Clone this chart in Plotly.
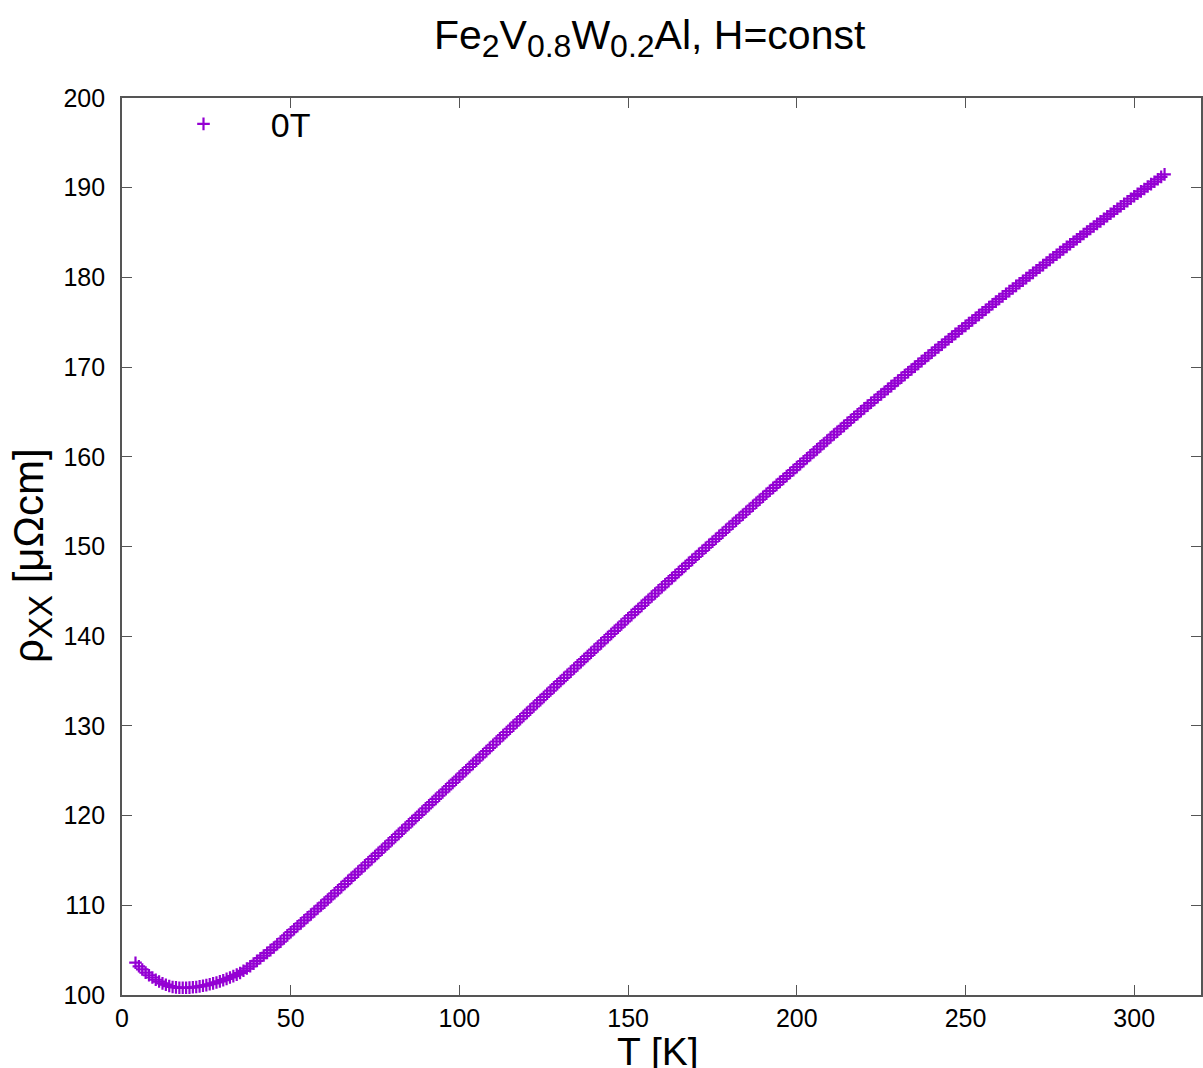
import plotly.graph_objects as go

# Temperature [K]
T_K = [4, 5, 6, 7, 8, 9, 10, 11, 12, 13, 14, 15, 16, 17, 18, 19, 20, 21, 22, 23, 24, 25, 26, 27, 28, 29,
       30, 31, 32, 33, 34, 35, 36, 37, 38, 39, 40, 41, 42, 43, 44, 45, 46, 47, 48, 49,
       50, 51, 52, 53, 54, 55, 56, 57, 58, 59, 60, 61, 62, 63, 64, 65, 66, 67, 68, 69,
       70, 71, 72, 73, 74, 75, 76, 77, 78, 79, 80, 81, 82, 83, 84, 85, 86, 87, 88, 89,
       90, 91, 92, 93, 94, 95, 96, 97, 98, 99, 100, 101, 102, 103, 104, 105, 106, 107, 108, 109,
       110, 111, 112, 113, 114, 115, 116, 117, 118, 119, 120, 121, 122, 123, 124, 125, 126, 127, 128, 129,
       130, 131, 132, 133, 134, 135, 136, 137, 138, 139, 140, 141, 142, 143, 144, 145, 146, 147, 148, 149,
       150, 151, 152, 153, 154, 155, 156, 157, 158, 159, 160, 161, 162, 163, 164, 165, 166, 167, 168, 169,
       170, 171, 172, 173, 174, 175, 176, 177, 178, 179, 180, 181, 182, 183, 184, 185, 186, 187, 188, 189,
       190, 191, 192, 193, 194, 195, 196, 197, 198, 199, 200, 201, 202, 203, 204, 205, 206, 207, 208, 209,
       210, 211, 212, 213, 214, 215, 216, 217, 218, 219, 220, 221, 222, 223, 224, 225, 226, 227, 228, 229,
       230, 231, 232, 233, 234, 235, 236, 237, 238, 239, 240, 241, 242, 243, 244, 245, 246, 247, 248, 249,
       250, 251, 252, 253, 254, 255, 256, 257, 258, 259, 260, 261, 262, 263, 264, 265, 266, 267, 268, 269,
       270, 271, 272, 273, 274, 275, 276, 277, 278, 279, 280, 281, 282, 283, 284, 285, 286, 287, 288, 289,
       290, 291, 292, 293, 294, 295, 296, 297, 298, 299, 300, 301, 302, 303, 304, 305, 306, 307, 308, 309]

# Resistivity rho_xx [micro-ohm cm] at 0 T
rho_0T = [103.6, 103.2, 102.85, 102.5, 102.2, 101.95, 101.7, 101.5, 101.3, 101.15, 101.0, 100.9, 100.85, 100.8,
          100.8, 100.8, 100.82, 100.86, 100.9, 100.96, 101.03, 101.1, 101.2, 101.3, 101.4, 101.52,
          101.65, 101.8, 101.95, 102.1, 102.27, 102.45, 102.7, 102.95, 103.2, 103.5, 103.8, 104.1, 104.4, 104.7,
          105.0, 105.3, 105.65, 105.95, 106.3, 106.65,
          107.0, 107.33, 107.66, 107.99, 108.32, 108.65, 108.98, 109.31, 109.64, 109.97,
          110.3, 110.65, 110.99, 111.34, 111.68, 112.03, 112.37, 112.72, 113.06, 113.41,
          113.75, 114.1, 114.45, 114.8, 115.15, 115.5, 115.85, 116.2, 116.55, 116.9,
          117.25, 117.61, 117.96, 118.32, 118.67, 119.03, 119.38, 119.74, 120.09, 120.45,
          120.8, 121.16, 121.51, 121.87, 122.22, 122.58, 122.93, 123.29, 123.64, 124.0,
          124.35, 124.71, 125.06, 125.42, 125.77, 126.13, 126.48, 126.84, 127.19, 127.55,
          127.9, 128.26, 128.61, 128.97, 129.32, 129.68, 130.03, 130.39, 130.74, 131.1,
          131.45, 131.81, 132.16, 132.52, 132.87, 133.23, 133.58, 133.94, 134.29, 134.65,
          135.0, 135.35, 135.7, 136.05, 136.4, 136.75, 137.1, 137.45, 137.8, 138.15,
          138.5, 138.85, 139.2, 139.55, 139.9, 140.25, 140.6, 140.95, 141.3, 141.65,
          142.0, 142.35, 142.69, 143.04, 143.38, 143.73, 144.07, 144.42, 144.76, 145.11,
          145.45, 145.79, 146.13, 146.47, 146.81, 147.15, 147.49, 147.83, 148.17, 148.51,
          148.85, 149.19, 149.52, 149.86, 150.19, 150.53, 150.86, 151.2, 151.53, 151.87,
          152.2, 152.54, 152.87, 153.21, 153.54, 153.88, 154.21, 154.55, 154.88, 155.22,
          155.55, 155.88, 156.21, 156.54, 156.87, 157.2, 157.53, 157.86, 158.19, 158.52,
          158.85, 159.18, 159.51, 159.84, 160.17, 160.5, 160.83, 161.16, 161.49, 161.82,
          162.15, 162.48, 162.8, 163.13, 163.45, 163.78, 164.1, 164.43, 164.75, 165.08,
          165.4, 165.71, 166.02, 166.33, 166.64, 166.95, 167.26, 167.57, 167.88, 168.19,
          168.5, 168.81, 169.12, 169.43, 169.74, 170.05, 170.36, 170.67, 170.98, 171.29,
          171.6, 171.9, 172.2, 172.5, 172.8, 173.1, 173.4, 173.7, 174.0, 174.3,
          174.6, 174.9, 175.2, 175.5, 175.8, 176.1, 176.4, 176.7, 177.0, 177.3,
          177.6, 177.89, 178.18, 178.47, 178.76, 179.05, 179.34, 179.63, 179.92, 180.21,
          180.5, 180.79, 181.08, 181.37, 181.66, 181.95, 182.24, 182.53, 182.82, 183.11,
          183.4, 183.69, 183.97, 184.26, 184.54, 184.83, 185.11, 185.4, 185.68, 185.97,
          186.25, 186.53, 186.81, 187.09, 187.37, 187.65, 187.93, 188.21, 188.49, 188.77,
          189.05, 189.32, 189.59, 189.86, 190.13, 190.4, 190.67, 190.94, 191.21, 191.48]

series_name = "\u00a0\u00a0\u00a0\u00a0\u00a00T"
title_text = ("Fe<sub><span style='font-size:32px'>2</span></sub>"
              "V<sub><span style='font-size:32px'>0.8</span></sub>"
              "W<sub><span style='font-size:32px'>0.2</span></sub>Al, H=const")
x_title = "T [K]"
y_title = "\u03c1<sub><span style='font-size:33px'>XX</span></sub> [\u03bc\u03a9cm]"
x_ticks = [0, 50, 100, 150, 200, 250, 300]
y_ticks = [100, 110, 120, 130, 140, 150, 160, 170, 180, 190, 200]

FONT = "Liberation Sans, Arial, sans-serif"
PURPLE = "#9400D3"
AXC = "#555555"

fig = go.Figure()
fig.add_trace(go.Scatter(
    x=T_K, y=rho_0T, mode="markers", name=series_name,
    marker=dict(symbol="cross-thin", size=9, color=PURPLE,
                line=dict(color=PURPLE, width=2.2)),
))

axis_common = dict(
    showgrid=False, zeroline=False, showline=True, linecolor=AXC, linewidth=1.6,
    mirror="ticks", ticks="inside", ticklen=10, tickwidth=1.4, tickcolor=AXC,
    tickfont=dict(family=FONT, size=25, color="#000000"),
)

fig.update_layout(
    width=1203, height=1068,
    margin=dict(l=122, r=0, t=98, b=73),
    paper_bgcolor="white", plot_bgcolor="white",
    font=dict(family=FONT, color="#000000"),
    title=dict(text=title_text, x=0.489, xref="paper", xanchor="center",
               y=0.968, yref="container", yanchor="middle",
               font=dict(family=FONT, size=41, color="#000000")),
    xaxis=dict(range=[0, 319.8], tickvals=x_ticks, **axis_common),
    yaxis=dict(range=[100, 200], tickvals=y_ticks, ticklabelstandoff=10, **axis_common),
    showlegend=True,
    legend=dict(x=0.057, y=1.003, xanchor="left", yanchor="top",
                bgcolor="rgba(0,0,0,0)", borderwidth=0,
                font=dict(family=FONT, size=34, color="#000000")),
    annotations=[
        dict(text=x_title, xref="paper", yref="paper", x=0.4968, y=-0.0625,
             xanchor="center", yanchor="middle", showarrow=False,
             font=dict(family=FONT, size=39, color="#000000")),
        dict(text=y_title, xref="paper", yref="paper", x=-0.0835, y=0.4905,
             xanchor="center", yanchor="middle", showarrow=False, textangle=-90,
             font=dict(family=FONT, size=42, color="#000000")),
    ],
)

fig.write_html("out.html")
